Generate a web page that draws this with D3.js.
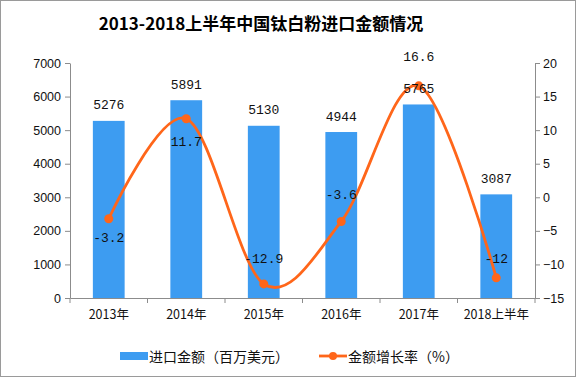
<!DOCTYPE html>
<html>
<head>
<meta charset="utf-8">
<script src="https://cdn.jsdelivr.net/npm/d3@7"></script>
<style>
  body { margin: 0; background: #fff; }
  svg { display: block; }
</style>
</head>
<body>
<svg id="chart" width="576" height="377"></svg>
<script>
// data
var categories = ["2013年", "2014年", "2015年", "2016年", "2017年", "2018上半年"];
var importValues = [5276, 5891, 5130, 4944, 5765, 3087];
var growthRates = [-3.2, 11.7, -12.9, -3.6, 16.6, -12];
var leftTicks = [0, 1000, 2000, 3000, 4000, 5000, 6000, 7000];
var rightTicks = [-15, -10, -5, 0, 5, 10, 15, 20];
// where each growth label sits relative to its point (px)
var growthLabelDy = [20, 24, -24, -26, -28, -18];

var svg = d3.select("#chart"),
    width = +svg.attr("width"),
    height = +svg.attr("height");

var margin = {left: 70, right: 41, top: 63, bottom: 79};
var x0 = margin.left, x1 = width - margin.right;
var y0 = height - margin.bottom, y1 = margin.top;

var barColor = "#3d9cf1",
    lineColor = "#ff661a",
    axisColor = "#8c8c8c";

// frame
svg.append("rect")
    .attr("x", 0.5).attr("y", 0.5)
    .attr("width", width - 1).attr("height", height - 1)
    .attr("fill", "none")
    .attr("stroke", "#9a9a9a");

// scales
var x = d3.scaleBand().domain(categories).range([x0, x1]).padding(0);
var yLeft = d3.scaleLinear().domain([0, 7000]).range([y0, y1]);
var yRight = d3.scaleLinear().domain([-15, 20]).range([y0, y1]);
var cx = function (c) { return x(c) + x.bandwidth() / 2; };
var barW = x.bandwidth() * 0.41;

// title
svg.append("text")
    .attr("x", 261).attr("y", 22)
    .attr("text-anchor", "middle")
    .attr("dominant-baseline", "central")
    .style("font-family", "'Noto Sans CJK SC', sans-serif")
    .style("font-size", "17px")
    .style("font-weight", "bold")
    .text("2013-2018上半年中国钛白粉进口金额情况");

// bars
svg.append("g").selectAll("rect")
    .data(importValues)
    .enter().append("rect")
    .attr("x", function (d, i) { return cx(categories[i]) - barW / 2; })
    .attr("y", function (d) { return yLeft(d); })
    .attr("width", barW)
    .attr("height", function (d) { return y0 - yLeft(d); })
    .attr("fill", barColor);

// axes
var leftAxis = svg.append("g")
    .attr("transform", "translate(" + x0 + ",0)")
    .call(d3.axisLeft(yLeft).tickValues(leftTicks).tickSize(5).tickSizeOuter(0).tickPadding(4)
        .tickFormat(d3.format("d")));

var rightAxis = svg.append("g")
    .attr("transform", "translate(" + x1 + ",0)")
    .call(d3.axisRight(yRight).tickValues(rightTicks).tickSize(5).tickSizeOuter(0).tickPadding(3)
        .tickFormat(function (d) { return d < 0 ? "\u2212" + Math.abs(d) : d; }));

[leftAxis, rightAxis].forEach(function (a) {
    a.select(".domain").attr("stroke", axisColor);
    a.selectAll(".tick line").attr("stroke", axisColor);
    a.selectAll("text")
        .attr("fill", "#111")
        .style("font-family", "'Liberation Sans', Arial, sans-serif")
        .style("font-size", "12.5px");
});

// x axis with ticks on category boundaries
var xAxis = svg.append("g")
    .attr("transform", "translate(0," + y0 + ")")
    .call(d3.axisBottom(x).tickSize(0).tickPadding(12));
xAxis.select(".domain").attr("stroke", axisColor);
xAxis.selectAll("text")
    .attr("fill", "#111")
    .style("font-family", "'Noto Sans CJK SC', sans-serif")
    .style("font-size", "12.5px");
var bounds = categories.map(function (c) { return x(c); }).concat([x.range()[1]]);
xAxis.selectAll(".btick")
    .data(bounds)
    .enter().append("line")
    .attr("x1", function (d) { return d; })
    .attr("x2", function (d) { return d; })
    .attr("y1", 0).attr("y2", 5)
    .attr("stroke", axisColor);

// growth line
var line = d3.line()
    .x(function (d, i) { return cx(categories[i]); })
    .y(function (d) { return yRight(d); })
    .curve(d3.curveCardinal.tension(0));

svg.append("path")
    .datum(growthRates)
    .attr("d", line)
    .attr("fill", "none")
    .attr("stroke", lineColor)
    .attr("stroke-width", 2.8);

svg.append("g").selectAll("circle")
    .data(growthRates)
    .enter().append("circle")
    .attr("cx", function (d, i) { return cx(categories[i]); })
    .attr("cy", function (d) { return yRight(d); })
    .attr("r", 4.5)
    .attr("fill", lineColor);

// labels
var labelFont = "'Liberation Mono', 'DejaVu Sans Mono', monospace";

svg.append("g").selectAll("text")
    .data(importValues)
    .enter().append("text")
    .attr("x", function (d, i) { return cx(categories[i]); })
    .attr("y", function (d) { return yLeft(d) - 15; })
    .attr("text-anchor", "middle")
    .attr("dominant-baseline", "central")
    .style("font-family", labelFont)
    .style("font-size", "13px")
    .attr("fill", "#111")
    .text(function (d) { return d; });

svg.append("g").selectAll("text")
    .data(growthRates)
    .enter().append("text")
    .attr("x", function (d, i) { return cx(categories[i]); })
    .attr("y", function (d, i) { return yRight(d) + growthLabelDy[i]; })
    .attr("text-anchor", "middle")
    .attr("dominant-baseline", "central")
    .style("font-family", labelFont)
    .style("font-size", "13px")
    .attr("fill", "#111")
    .text(function (d) { return d; });

// legend
var legend = svg.append("g").attr("transform", "translate(0,356)");
legend.append("rect")
    .attr("x", 120).attr("y", -4)
    .attr("width", 28).attr("height", 8)
    .attr("fill", barColor);
legend.append("text")
    .attr("x", 149).attr("y", 0)
    .attr("dominant-baseline", "central")
    .style("font-family", "'Noto Sans CJK SC', sans-serif")
    .style("font-size", "14px")
    .attr("fill", "#111")
    .text("进口金额（百万美元）");
legend.append("line")
    .attr("x1", 319).attr("x2", 347)
    .attr("y1", 0).attr("y2", 0)
    .attr("stroke", lineColor)
    .attr("stroke-width", 2.8);
legend.append("circle")
    .attr("cx", 333).attr("cy", 0).attr("r", 4)
    .attr("fill", lineColor);
legend.append("text")
    .attr("x", 348).attr("y", 0)
    .attr("dominant-baseline", "central")
    .style("font-family", "'Noto Sans CJK SC', sans-serif")
    .style("font-size", "14px")
    .attr("fill", "#111")
    .text("金额增长率（%）");
</script>
</body>
</html>
